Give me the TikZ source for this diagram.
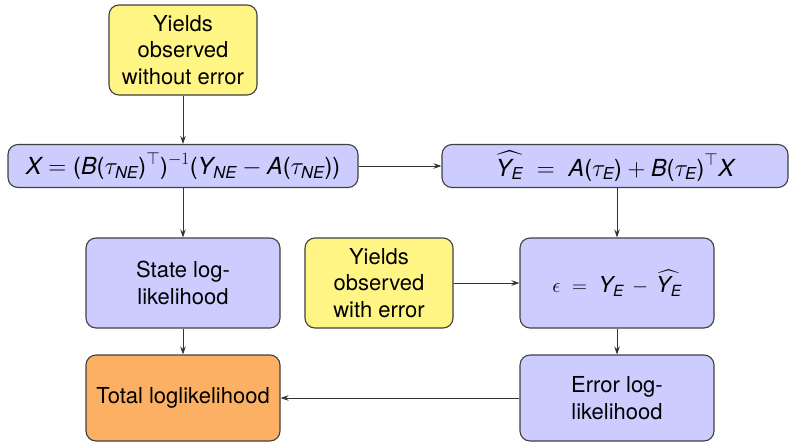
\documentclass[tikz,border=0pt]{standalone}
\usepackage{amsmath}
\usepackage{fontspec}
\setmainfont{TeX Gyre Heros}
\usetikzlibrary{arrows.meta}
\newcommand\mi[1]{\text{\itshape #1}}
\newcommand\lp{\text{(}}
\newcommand\rp{\text{)}}
\definecolor{boxblue}{RGB}{204,204,255}
\definecolor{boxyellow}{RGB}{255,245,133}
\definecolor{boxorange}{RGB}{252,176,100}
\begin{document}
\begin{tikzpicture}[x=1pt,y=-1pt,
  base/.style={draw=black!75,line width=1.1pt,rounded corners=10pt,inner sep=0pt,align=center,
    font=\fontsize{22}{26.5}\selectfont},
  bigmath/.style={font=\fontsize{23.5}{28}\selectfont},
  bluebox/.style={base,fill=boxblue},
  yellowbox/.style={base,fill=boxyellow},
  orangebox/.style={base,fill=boxorange},
  conn/.style={draw=black!80,line width=1pt,-{Stealth[length=8pt,width=5.5pt]}}]
\useasboundingbox (0,0) rectangle (789,442);
\node[yellowbox,minimum width=148pt,minimum height=90pt] (ywo) at (183,50) {Yields\\observed\\without error};
\node[bluebox,bigmath,minimum width=350pt,minimum height=43pt] (X) at (183,166)
  {$\mi{X} = \lp\mi{B}\lp\tau_{\mi{NE}}\rp^{\top}\rp^{-1}\lp\mi{Y}_{\mi{NE}} - \mi{A}\lp\tau_{\mi{NE}}\rp\rp$};
\node[bluebox,bigmath,minimum width=346pt,minimum height=43pt] (yhat) at (615,166)
  {$\widehat{\mi{Y}_{\mi{E}}} \;=\; \mi{A}\lp\tau_{\mi{E}}\rp + \mi{B}\lp\tau_{\mi{E}}\rp^{\top}\mi{X}$};
\node[bluebox,minimum width=194pt,minimum height=90pt] (state) at (183,283) {State log-\\likelihood};
\node[yellowbox,minimum width=148pt,minimum height=90pt] (ywe) at (379,283) {Yields\\observed\\with error};
\node[bluebox,minimum width=194pt,minimum height=90pt] (eps) at (617,283)
  {$\epsilon \;=\; \mi{Y}_{\mi{E}} \,-\, \widehat{\mi{Y}_{\mi{E}}}$};
\node[orangebox,minimum width=194pt,minimum height=86pt] (total) at (183,398) {Total loglikelihood};
\node[bluebox,minimum width=194pt,minimum height=86pt] (err) at (617,398) {Error log-\\likelihood};
\draw[conn] (ywo) -- (X);
\draw[conn] (X) -- (yhat);
\draw[conn] (X) -- (state);
\draw[conn] (yhat.south -| eps.north) -- (eps);
\draw[conn] (ywe) -- (eps);
\draw[conn] (state) -- (total);
\draw[conn] (eps) -- (err);
\draw[conn] (err) -- (total);
\end{tikzpicture}
\end{document}
